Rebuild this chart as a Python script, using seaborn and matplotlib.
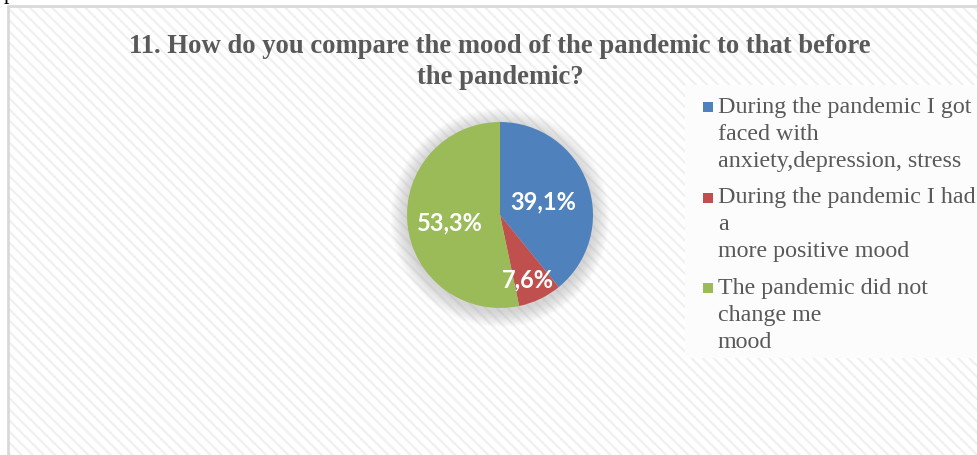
import matplotlib
matplotlib.use("Agg")
import matplotlib.pyplot as plt
from matplotlib.patches import Rectangle, Circle
import seaborn as sns

sns.set_theme(style="white")
plt.rcParams["font.family"] = ["Liberation Serif", "DejaVu Serif"]
plt.rcParams["hatch.linewidth"] = 1.6

# Survey answers and shares (percent)
categories = [
    "During the pandemic I got\nfaced with\nanxiety,depression, stress",
    "During the pandemic I had\na\nmore positive mood",
    "The pandemic did not\nchange me\nmood",
]
shares = [39.1, 7.6, 53.3]
share_labels = ["39,1%", "7,6%", "53,3%"]
colors = ["#4F81BD", "#C0504D", "#9BBB59"]
title = "11. How do you compare the mood of the pandemic to that before\nthe pandemic?"

W, H = 978, 455
fig = plt.figure(figsize=(W / 100, H / 100), dpi=100)
fig.patch.set_facecolor("white")

# background panel with diagonal texture and border
bg = fig.add_axes([0, 0, 1, 1])
bg.set_xlim(0, W)
bg.set_ylim(H, 0)
bg.axis("off")
bg.add_patch(Rectangle((8, 6), W - 8, H - 6, facecolor="white",
                       edgecolor="#f0f0f0", linewidth=0, hatch="\\\\\\", zorder=0))
bg.plot([8, 8], [H, 6], color="#d9d9d9", lw=2, zorder=1)
bg.plot([8, W], [6, 6], color="#d9d9d9", lw=2, zorder=1)
bg.text(9, -1, "p", fontsize=16, color="black", ha="center", va="baseline",
        zorder=2)

# legend panel
bg.add_patch(Rectangle((685, 85), W - 685, 273, facecolor="#fcfcfc",
                       edgecolor="none", zorder=1))

bg.text(500, 62, title, fontsize=19.2, fontweight="bold", color="#595959",
        ha="center", va="center", linespacing=1.28, zorder=3)

# pie
cx, cy, r = 500, 215, 93
half = 130
ax = fig.add_axes([(cx - half) / W, (H - cy - half) / H, 2 * half / W, 2 * half / H])

# soft glow under the pie
for i in range(16):
    rr = 1.0 + 0.011 * (16 - i)
    ax.add_patch(Circle((0, -0.03), rr, facecolor="#9a9a9a", alpha=0.028,
                        edgecolor="none", zorder=1))

wedges, _ = ax.pie(shares, colors=colors, startangle=90, counterclock=False,
                   radius=1.0, wedgeprops=dict(linewidth=0))
for w in wedges:
    w.set_zorder(2)
lim = half / r
ax.set_xlim(-lim, lim)
ax.set_ylim(-lim, lim)
ax.set_aspect("equal")
ax.axis("off")

label_pos = [(0.46, 0.14), (0.30, -0.70), (-0.54, -0.08)]
for (x, y), txt in zip(label_pos, share_labels):
    ax.text(x, y, txt, color="white", fontsize=17, fontweight="bold",
            family=["Lato", "DejaVu Sans"], ha="center", va="center", zorder=3)

# legend drawn entry by entry
line_h = 27.2
gap = 9
y = 107
for label, c in zip(categories, colors):
    bg.add_patch(Rectangle((703, y - 5), 10, 10, facecolor=c, edgecolor="none", zorder=3))
    for line in label.split("\n"):
        bg.text(718, y, line, fontsize=17.3, color="#595959", ha="left",
                va="center", zorder=3)
        y += line_h
    y += gap

fig.savefig("out.png", dpi=100, facecolor="white")
